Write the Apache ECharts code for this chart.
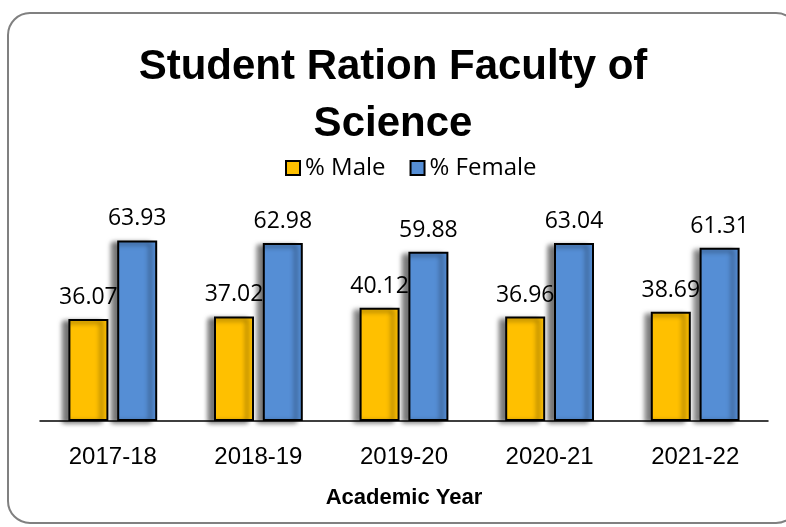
<!DOCTYPE html>
<html>
<head>
<meta charset="utf-8">
<script src="https://cdn.jsdelivr.net/npm/echarts@6/dist/echarts.min.js"></script>
<style>html,body{margin:0;padding:0;background:#fff}#c{width:786px;height:527px}</style>
</head>
<body>
<div id="c"></div>
<script>
var categories = ['2017-18', '2018-19', '2019-20', '2020-21', '2021-22'];
var maleValues = [36.07, 37.02, 40.12, 36.96, 38.69];
var femaleValues = [63.93, 62.98, 59.88, 63.04, 61.31];
var seriesNames = ['% Male', '% Female'];

var chart = echarts.init(document.getElementById('c'));
var barShadow = {shadowColor: 'rgba(0,0,0,0.55)', shadowBlur: 5, shadowOffsetX: -6, shadowOffsetY: 2};
var labelStyle = {show: true, position: 'top', distance: 10, color: '#000', fontFamily: 'Open Sans', fontSize: 23};
chart.setOption({
  animation: false,
  graphic: [{
    type: 'rect', shape: {x: 8, y: 13, width: 790, height: 510, r: 22},
    style: {fill: 'none', stroke: '#808080', lineWidth: 2}, z: -1
  }],
  title: {
    text: 'Student Ration Faculty of\nScience', left: 'center', top: 34,
    textStyle: {fontFamily: 'Liberation Sans', fontWeight: 'bold', fontSize: 42, lineHeight: 57, color: '#000'}
  },
  legend: {
    top: 151, left: 280, itemWidth: 14, itemHeight: 14, itemGap: 24,
    textStyle: {fontFamily: 'Open Sans', fontSize: 24, color: '#000'},
    data: seriesNames.map(function (n) { return {name: n, icon: 'rect', itemStyle: {borderColor: '#000', borderWidth: 2}}; })
  },
  grid: {left: 40, right: 18, top: 195, bottom: 106},
  xAxis: {
    type: 'category', data: categories,
    axisLine: {lineStyle: {color: '#000', width: 1.5}}, axisTick: {show: false},
    axisLabel: {fontFamily: 'Liberation Sans', fontSize: 24, color: '#000', margin: 24},
    name: 'Academic Year', nameLocation: 'middle', nameGap: 66,
    nameTextStyle: {fontFamily: 'Liberation Sans', fontWeight: 'bold', fontSize: 22, color: '#000'}
  },
  yAxis: {type: 'value', min: 0, max: 80, show: false, splitLine: {show: false}},
  series: [
    {name: seriesNames[0], type: 'bar', data: maleValues, barWidth: 40, barGap: '22%',
      itemStyle: Object.assign({color: '#FFC000', borderColor: '#000', borderWidth: 2}, barShadow), label: labelStyle},
    {name: seriesNames[1], type: 'bar', data: femaleValues, barWidth: 40, barGap: '22%',
      itemStyle: Object.assign({color: '#558ED5', borderColor: '#000', borderWidth: 2}, barShadow), label: labelStyle}
  ]
});
</script>
</body>
</html>
